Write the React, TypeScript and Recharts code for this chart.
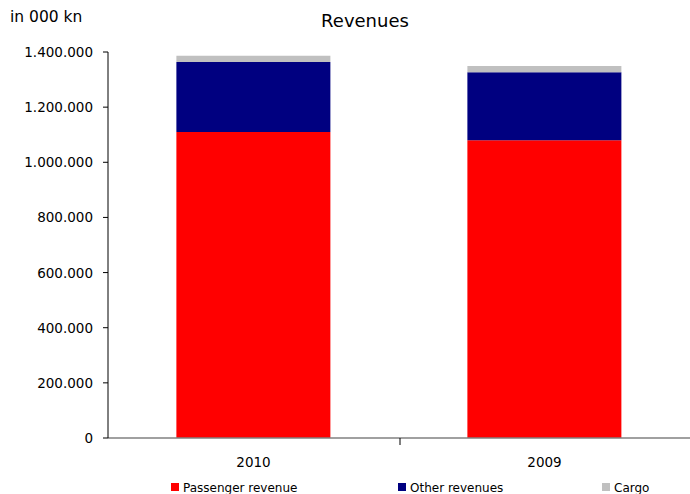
import React from "react";
import { BarChart, Bar, XAxis, YAxis, Legend } from "recharts";

const categories = ["2010", "2009"];
const passengerRevenue = [1110000, 1080000];
const otherRevenues = [254000, 247000];
const cargo = [22000, 22000];
const yTicks = [0, 200000, 400000, 600000, 800000, 1000000, 1200000, 1400000];
const seriesNames = ["Passenger revenue", "Other revenues", "Cargo"];
const seriesColors = ["#FF0000", "#000080", "#C0C0C0"];

const data = categories.map((c, i) => ({
  year: c,
  passenger: passengerRevenue[i],
  other: otherRevenues[i],
  cargo: cargo[i],
}));

const FONT = "'DejaVu Sans', sans-serif";

const fmt = (v: number) =>
  v === 0 ? "0" : v.toString().replace(/\B(?=(\d{3})+(?!\d))/g, ".");

const XTick = (props: any) => {
  const { x, y, payload, index } = props;
  return (
    <g>
      {index === 0 && (
        <line x1={x + 146.5} x2={x + 146.5} y1={y - 8} y2={y - 1} stroke="#000" strokeWidth={1} />
      )}
      <text x={x} y={y + 21} textAnchor="middle" fontSize={13.5} fontFamily={FONT} fill="#000">
        {payload.value}
      </text>
    </g>
  );
};

const YTick = (props: any) => {
  const { x, y, payload } = props;
  return (
    <text x={x - 8} y={y + 5} textAnchor="end" fontSize={13.5} fontFamily={FONT} fill="#000">
      {fmt(payload.value)}
    </text>
  );
};

const LegendContent = () => {
  const xs = [171, 398, 602];
  return (
    <svg width={690} height={24} style={{ position: "absolute", left: 0, top: 0, overflow: "visible" }}>
      {seriesNames.map((n, i) => (
        <g key={n}>
          <rect x={xs[i]} y={7} width={8} height={8} fill={seriesColors[i]} />
          <text x={xs[i] + 12} y={16} fontSize={12} fontFamily={FONT} fill="#000">
            {n}
          </text>
        </g>
      ))}
    </svg>
  );
};

export default function App() {
  return (
    <div style={{ position: "absolute", left: 0, top: 0, width: 690, height: 494, background: "#fff", overflow: "hidden" }}>
      <div style={{ position: "absolute", left: 10, top: 8, fontFamily: FONT, fontSize: 15.5, color: "#000" }}>in 000 kn</div>
      <div style={{ position: "absolute", left: 0, width: 730, top: 10, textAlign: "center", fontFamily: FONT, fontSize: 18, color: "#000" }}>
        Revenues
      </div>
      <BarChart
        width={690}
        height={494}
        data={data}
        margin={{ top: 52, right: 0, left: 0, bottom: 6 }}
        barCategoryGap="23.5%"
      >
        <XAxis
          dataKey="year"
          axisLine={{ stroke: "#808080", strokeWidth: 1.5 }}
          tickLine={false}
          tick={<XTick />}
          height={30}
          interval={0}
        />
        <YAxis
          width={108}
          domain={[0, 1400000]}
          ticks={yTicks}
          axisLine={{ stroke: "#000" }}
          tickLine={{ stroke: "#000" }}
          tickSize={5}
          tick={<YTick />}
          interval={0}
        />
        <Legend
          verticalAlign="bottom"
          height={0}
          content={<LegendContent />}
          wrapperStyle={{ position: "absolute", left: 0, top: 476, width: 690, height: 20 }}
        />
        <Bar dataKey="passenger" name={seriesNames[0]} stackId="a" fill={seriesColors[0]} isAnimationActive={false} />
        <Bar dataKey="other" name={seriesNames[1]} stackId="a" fill={seriesColors[1]} isAnimationActive={false} />
        <Bar dataKey="cargo" name={seriesNames[2]} stackId="a" fill={seriesColors[2]} isAnimationActive={false} />
      </BarChart>
    </div>
  );
}
